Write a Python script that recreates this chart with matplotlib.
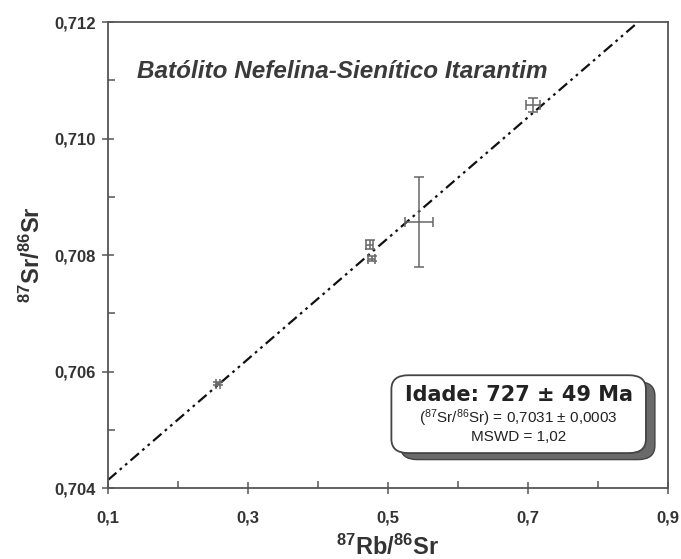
import numpy as np
import matplotlib
matplotlib.use('Agg')
import matplotlib.pyplot as plt
from matplotlib.patches import FancyBboxPatch

plt.rcParams['font.family'] = ['Liberation Sans', 'DejaVu Sans']
plt.rcParams['mathtext.fontset'] = 'custom'
plt.rcParams['mathtext.rm'] = 'Liberation Sans'
plt.rcParams['mathtext.bf'] = 'Liberation Sans:bold'
plt.rcParams['mathtext.it'] = 'Liberation Sans:italic'

# isochron samples (87Rb/86Sr, 87Sr/86Sr) with 2-sigma errors
rb_sr = [0.2567, 0.474, 0.477, 0.544, 0.707]
sr_sr = [0.70579, 0.70818, 0.70794, 0.70857, 0.71058]
rb_err = [0.003, 0.005, 0.005, 0.020, 0.010]
sr_err = [0.00003, 0.00007, 0.00005, 0.00077, 0.00012]

# fitted isochron
intercept = 0.7031
slope = 0.01038

xticks = [0.1, 0.3, 0.5, 0.7, 0.9]
yticks = [0.704, 0.706, 0.708, 0.710, 0.712]

grey = '#555555'
txt = '#333333'

fig = plt.figure(figsize=(6.81, 5.59), dpi=100)
ax = fig.add_axes([0.1586, 0.127, 0.8224, 0.8336])

xl = np.array([0.1, 0.9])
ax.plot(xl, intercept + slope * xl, color='#111111', lw=1.6,
        dashes=[5, 2, 1.2, 2, 1.2, 2], zorder=2)

ax.errorbar(rb_sr, sr_sr, xerr=rb_err, yerr=sr_err, fmt='none',
            ecolor='#666666', elinewidth=1.1, capsize=3.5, capthick=1.1, zorder=3)

ax.set_xlim(0.1, 0.9)
ax.set_ylim(0.704, 0.712)
ax.set_xticks(xticks)
ax.set_yticks(yticks)
ax.set_xticks([0.2, 0.4, 0.6, 0.8], minor=True)
ax.set_yticks([0.705, 0.707, 0.709, 0.711], minor=True)
ax.set_xticklabels([f'{v:.1f}'.replace('.', ',') for v in xticks])
ax.set_yticklabels([f'{v:.3f}'.replace('.', ',') for v in yticks])
ax.tick_params(which='major', direction='inout', length=9, width=1.1,
               color=grey, labelsize=12, labelcolor=txt, pad=4)
ax.tick_params(axis='x', which='major', pad=12)
ax.tick_params(which='minor', direction='in', length=5, width=1.1, color=grey)
for lab in ax.get_xticklabels() + ax.get_yticklabels():
    lab.set_fontweight('bold')
for s in ax.spines.values():
    s.set_color(grey)
    s.set_linewidth(1.3)

ax.set_xlabel(r'$\mathbf{^{87}Rb/^{86}Sr}$', fontsize=17, color=txt, labelpad=6)
ax.set_ylabel(r'$\mathbf{^{87}Sr/^{86}Sr}$', fontsize=17, color=txt, labelpad=7)

ax.text(0.141, 0.71115, 'Batólito Nefelina-Sienítico Itarantim', fontsize=17.5,
        fontweight='bold', fontstyle='italic', color='#3a3a3a', va='center')

# result box with shadow (axes fraction coords)
bx0, by0, bw, bh = 0.506, 0.075, 0.4545, 0.167
shadow = FancyBboxPatch((bx0 + 0.016, by0 - 0.014), bw, bh,
                        boxstyle='round,pad=0,rounding_size=0.03',
                        transform=ax.transAxes, fc='#6a6a6a', ec='#444444',
                        lw=1.0, zorder=4)
box = FancyBboxPatch((bx0, by0), bw, bh,
                     boxstyle='round,pad=0,rounding_size=0.03',
                     transform=ax.transAxes, fc='white', ec='#444444',
                     lw=1.3, zorder=5)
ax.add_patch(shadow)
ax.add_patch(box)
cx = bx0 + bw / 2
ax.text(cx, by0 + bh * 0.75, 'Idade: 727 ± 49 Ma', transform=ax.transAxes,
        ha='center', va='center', fontsize=15, fontweight='bold',
        family='DejaVu Sans', color='#222222', zorder=6)
ax.text(cx, by0 + bh * 0.45, r'($^{87}$Sr/$^{86}$Sr) = 0,7031 ± 0,0003',
        transform=ax.transAxes, ha='center', va='center', fontsize=11,
        color='#222222', zorder=6)
ax.text(cx, by0 + bh * 0.2, 'MSWD = 1,02', transform=ax.transAxes,
        ha='center', va='center', fontsize=11, color='#222222', zorder=6)

fig.savefig('out.png', dpi=100)
